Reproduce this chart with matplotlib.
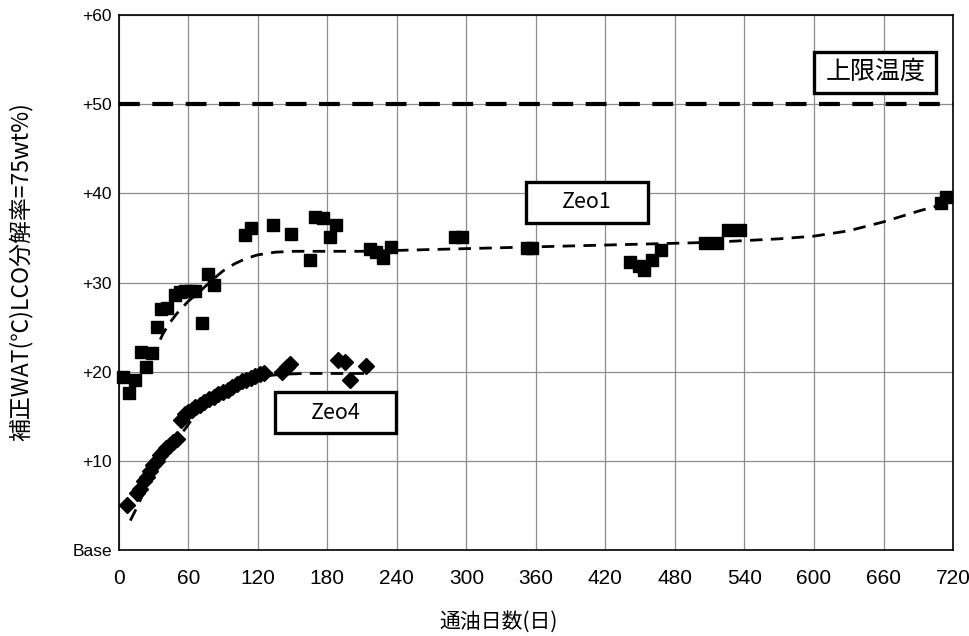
import matplotlib.pyplot as plt
from matplotlib.patches import Rectangle

plt.rcParams['font.family'] = ['Liberation Sans', 'Noto Sans CJK JP', 'DejaVu Sans']
JP = ['Noto Sans CJK JP', 'DejaVu Sans']

# Zeo1 measurements (days on stream, corrected WAT)
zeo1_days = [4, 9, 14, 19, 23.5, 28.4, 32.8, 36.5, 42, 48.5, 53, 57, 61.5, 66, 71.5,
             77.2, 82.2, 108.9, 113.8, 132.8, 149.1, 164.9, 169.2, 176.4, 182.2, 187.3,
             216.6, 222.4, 228.1, 235.3, 290, 296, 352, 357, 441, 449, 453.5, 460, 468,
             506, 516, 526, 536, 709.5, 714.3]
zeo1_wat = [19.4, 17.6, 19.1, 22.2, 20.5, 22.1, 25.0, 27.0, 27.1, 28.6, 28.9, 29.0, 29.0,
            29.0, 25.5, 30.9, 29.7, 35.3, 36.1, 36.4, 35.4, 32.5, 37.4, 37.2, 35.1, 36.4,
            33.8, 33.4, 32.7, 34.0, 35.1, 35.1, 33.9, 33.9, 32.3, 31.8, 31.4, 32.5, 33.6,
            34.4, 34.4, 35.9, 35.9, 38.9, 39.6]

# Zeo1 trend line
zeo1_fit_days = [28, 33, 38, 43, 50, 60, 70, 80, 90, 100, 110, 120, 135, 150, 180, 210,
                 240, 270, 300, 330, 360, 390, 420, 450, 480, 510, 540, 570, 600, 630,
                 660, 690, 712]
zeo1_fit_wat = [21.5, 22.8, 24.2, 25.3, 26.5, 27.9, 29.0, 30.2, 31.3, 32.1, 32.7, 33.1,
                33.4, 33.5, 33.5, 33.5, 33.6, 33.7, 33.8, 33.9, 34.0, 34.1, 34.2, 34.3,
                34.4, 34.5, 34.7, 34.9, 35.2, 35.8, 36.8, 38.0, 38.8]

# Zeo4 measurements
zeo4_days = [6.9, 15.5, 18.4, 21.4, 24, 27, 30, 33, 36, 38.4, 41, 44, 47, 50, 54, 57, 60,
             63, 66, 70, 74, 78, 82, 86, 90, 94, 98, 102, 106, 110, 114, 118, 122, 125,
             140.5, 144.8, 147.7, 189.3, 195, 199.4, 213]
zeo4_wat = [5.0, 6.4, 6.8, 7.7, 8.2, 8.9, 9.5, 10.0, 10.6, 11.0, 11.4, 11.8, 12.1, 12.4,
            14.6, 15.2, 15.5, 15.7, 16.0, 16.3, 16.6, 16.9, 17.2, 17.5, 17.7, 18.0, 18.3,
            18.6, 18.9, 19.1, 19.3, 19.5, 19.7, 19.8, 20.0, 20.5, 20.9, 21.3, 21.1, 19.1,
            20.6]

# Zeo4 trend line
zeo4_fit_days = [10, 15, 20, 30, 40, 50, 58, 65, 75, 85, 95, 105, 115, 125, 140, 160,
                 180, 200, 215]
zeo4_fit_wat = [3.3, 4.6, 6.0, 8.5, 10.6, 12.4, 13.7, 15.0, 16.1, 17.0, 17.8, 18.5, 19.1,
                19.5, 19.7, 19.8, 19.8, 19.8, 19.8]

upper_limit = 50
x_ticks = list(range(0, 721, 60))
y_ticks = [0, 10, 20, 30, 40, 50, 60]
y_tick_labels = ['Base', '+10', '+20', '+30', '+40', '+50', '+60']

fig = plt.figure(figsize=(9.7, 6.36), dpi=100)
ax = fig.add_axes([0.1224, 0.1352, 0.8601, 0.8412])

ax.set_xlim(0, 720)
ax.set_ylim(0, 60)
ax.set_xticks(x_ticks)
ax.set_yticks(y_ticks)
ax.set_xticklabels([str(t) for t in x_ticks], fontsize=15)
ax.set_yticklabels(y_tick_labels, fontsize=12.5)
ax.tick_params(length=0, pad=5)
ax.tick_params(axis='x', pad=14)
ax.grid(True, color='#8c8c8c', linewidth=0.9)
for s in ax.spines.values():
    s.set_linewidth(1.2)
    s.set_color('black')

ax.axhline(upper_limit, color='black', linewidth=3, dashes=(5, 3), zorder=3)

ax.plot(zeo1_fit_days, zeo1_fit_wat, color='black', linewidth=2, dashes=(4.5, 3), zorder=3)
ax.plot(zeo4_fit_days, zeo4_fit_wat, color='black', linewidth=2, dashes=(4.5, 3), zorder=3)
ax.plot(zeo1_days, zeo1_wat, 's', color='black', markersize=8.5, zorder=4, clip_on=False)
ax.plot(zeo4_days, zeo4_wat, 'D', color='black', markersize=8, zorder=4, clip_on=False)

# label boxes
boxes = [((351.7, 36.7), 104.9, 4.6, 'Zeo1', 15.5),
         ((134.7, 13.1), 104.9, 4.6, 'Zeo4', 15.5),
         ((600.3, 51.3), 105.4, 4.6, '上限温度', 18)]
for (x0, y0), w, h, label, fs in boxes:
    ax.add_patch(Rectangle((x0, y0), w, h, facecolor='white', edgecolor='black',
                           linewidth=2.4, zorder=5))
    ax.text(x0 + w / 2, y0 + h / 2, label, ha='center', va='center', fontsize=fs,
            family=JP, zorder=6)

ax.set_xlabel('通油日数(日)', fontsize=15, family=JP)
ax.xaxis.set_label_coords(0.455, -0.114)
ax.set_ylabel('補正WAT(℃)LCO分解率=75wt%)', fontsize=16.5, family=JP)
ax.yaxis.set_label_coords(-0.103, 0.52)

fig.savefig('out.png', dpi=100)
